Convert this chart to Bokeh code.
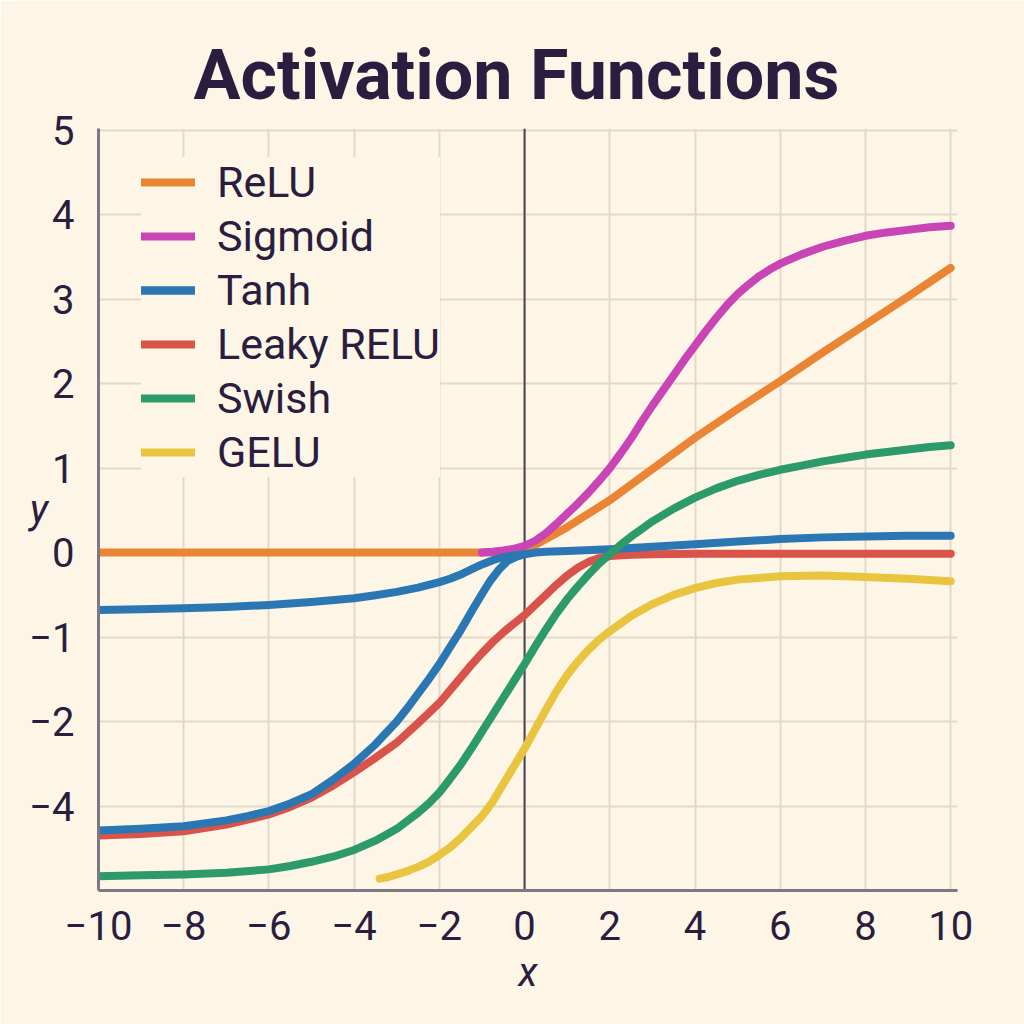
from bokeh.plotting import figure
from bokeh.models import Legend, LegendItem, Span
from bokeh.embed import file_html
from bokeh.resources import INLINE

# ---- data ----
relu_x = [-10, -8, -6, -4, -2, -1, -0.5, -0.25, 0, 0.25, 0.5, 0.75, 1, 1.5, 2, 3, 4, 5, 6, 7, 8, 9, 10]
relu_y = [0, 0, 0, 0, 0, 0, 0.005, 0.015, 0.04, 0.09, 0.16, 0.23, 0.3, 0.46, 0.62, 0.99, 1.36, 1.7, 2.03, 2.37, 2.7, 3.03, 3.37]

sig_x = [-1.0, -0.75, -0.5, -0.25, 0, 0.25, 0.5, 0.75, 1, 1.25, 1.5, 1.75, 2, 2.25, 2.5, 2.75, 3, 3.25, 3.5,
         3.75, 4, 4.25, 4.5, 4.75, 5, 5.25, 5.5, 5.75, 6, 6.5, 7, 7.5, 8, 8.5, 9, 9.5, 10]
sig_y = [0.0, 0.01, 0.025, 0.045, 0.08, 0.14, 0.23, 0.34, 0.46, 0.58, 0.71, 0.85, 1.0, 1.17, 1.35, 1.55, 1.74, 1.92, 2.1,
         2.28, 2.45, 2.62, 2.78, 2.93, 3.06, 3.17, 3.27, 3.35, 3.42, 3.53, 3.62, 3.69, 3.75, 3.79, 3.82, 3.85, 3.87]

tanh_a_x = [-10, -9, -8, -7, -6, -5, -4, -3.5, -3, -2.5, -2, -1.75, -1.5, -1.25, -1.0, -0.75, -0.5, -0.25, 0]
tanh_a_y = [-0.68, -0.67, -0.66, -0.645, -0.62, -0.585, -0.54, -0.505, -0.465, -0.415, -0.35, -0.31, -0.26,
            -0.2, -0.14, -0.09, -0.055, -0.035, -0.02]

tanh_b_x = [-10, -9, -8, -7, -6.5, -6, -5.5, -5, -4.5, -4, -3.5, -3, -2.75, -2.5, -2.25, -2, -1.75, -1.5, -1.25,
            -1, -0.8, -0.6, -0.4, -0.2, 0, 0.25, 0.5, 1, 2, 3, 4, 5, 6, 7, 8, 9, 10]
tanh_b_y = [-3.29, -3.27, -3.24, -3.17, -3.12, -3.06, -2.97, -2.86, -2.69, -2.5, -2.27, -2.0, -1.84, -1.67, -1.5,
            -1.32, -1.12, -0.92, -0.7, -0.49, -0.33, -0.2, -0.1, -0.05, -0.02, 0.0, 0.01, 0.02, 0.04, 0.07, 0.1,
            0.13, 0.16, 0.18, 0.19, 0.2, 0.2]

leaky_x = [-10, -9, -8, -7, -6, -5.5, -5, -4.5, -4, -3.5, -3, -2.5, -2, -1.5, -1.25, -1, -0.75, -0.5, -0.25, 0,
           0.5, 0.75, 1, 1.25, 1.5, 1.75, 2, 2.5, 3, 4, 6, 8, 10]
leaky_y = [-3.35, -3.33, -3.3, -3.22, -3.1, -3.01, -2.9, -2.76, -2.6, -2.43, -2.25, -2.02, -1.78, -1.48, -1.33,
           -1.19, -1.06, -0.945, -0.84, -0.74, -0.5, -0.38, -0.27, -0.18, -0.11, -0.065, -0.04, -0.025, -0.02,
           -0.015, -0.015, -0.015, -0.015]

swish_x = [-10, -9, -8, -7, -6, -5.5, -5, -4.5, -4, -3.5, -3, -2.5, -2.25, -2, -1.75, -1.5, -1.25, -1, -0.75, -0.5,
           -0.25, 0, 0.25, 0.5, 0.75, 1, 1.25, 1.5, 1.75, 2, 2.25, 2.5, 2.75, 3, 3.5, 4, 4.5, 5, 5.5, 6, 6.5, 7,
           7.5, 8, 8.5, 9, 9.5, 10]
swish_y = [-3.83, -3.82, -3.81, -3.79, -3.75, -3.71, -3.66, -3.6, -3.52, -3.41, -3.27, -3.08, -2.97, -2.84, -2.68,
           -2.51, -2.32, -2.12, -1.92, -1.72, -1.52, -1.32, -1.11, -0.91, -0.72, -0.55, -0.4, -0.26, -0.13, -0.02,
           0.09, 0.19, 0.28, 0.37, 0.52, 0.65, 0.76, 0.85, 0.92, 0.98, 1.03, 1.08, 1.12, 1.16, 1.19, 1.22, 1.25, 1.27]

gelu_x = [-3.4, -3.2, -3, -2.75, -2.5, -2.25, -2, -1.75, -1.5, -1.25, -1, -0.75, -0.5, -0.25, 0, 0.25, 0.5, 0.75,
          1, 1.25, 1.5, 1.75, 2, 2.5, 3, 3.5, 4, 4.5, 5, 5.5, 6, 7, 8, 9, 10]
gelu_y = [-3.86, -3.84, -3.81, -3.77, -3.72, -3.66, -3.58, -3.49, -3.38, -3.25, -3.12, -2.95, -2.74, -2.53, -2.32,
          -2.09, -1.86, -1.64, -1.45, -1.29, -1.15, -1.03, -0.93, -0.75, -0.61, -0.5, -0.42, -0.36, -0.32, -0.3,
          -0.28, -0.27, -0.29, -0.31, -0.34]

x_ticks = [-10, -8, -6, -4, -2, 0, 2, 4, 6, 8, 10]
x_tick_labels = ["−10", "−8", "−6", "−4", "−2", "0", "2", "4", "6", "8", "10"]
y_ticks = [-3, -2, -1, 0, 1, 2, 3, 4, 5]
y_tick_labels = ["−4", "−2", "−1", "0", "1", "2", "3", "4", "5"]

BG = "#fdf6e7"
INK = "#2b1d3f"
FONT = "Roboto"

p = figure(width=1024, height=1024, x_range=(-10, 10.16), y_range=(-4, 5.02),
           output_backend="svg", toolbar_location=None,
           background_fill_color=BG, border_fill_color=BG,
           min_border_left=98, min_border_right=67, min_border_top=128, min_border_bottom=134)
p.outline_line_color = None

p.title.text = "Activation Functions"
p.title.text_font = FONT
p.title.text_font_size = "70px"
p.title.text_font_style = "bold"
p.title.text_color = INK
p.title.align = "left"
p.title.offset = 95
p.title.standoff = 25

for ax in (p.xaxis, p.yaxis):
    ax.axis_line_color = "#7d7884"
    ax.axis_line_width = 3
    ax.major_tick_line_color = None
    ax.minor_tick_line_color = None
    ax.major_label_text_font = FONT
    ax.major_label_text_font_size = "40px"
    ax.major_label_text_color = INK
    ax.axis_label_text_font = FONT
    ax.axis_label_text_font_size = "40px"
    ax.axis_label_text_font_style = "italic"
    ax.axis_label_text_color = INK

p.xaxis.ticker = x_ticks
p.xaxis.major_label_overrides = {t: l for t, l in zip(x_ticks, x_tick_labels)}
p.xaxis.major_label_standoff = 14
p.xaxis.axis_label = "x"
p.xaxis.axis_label_standoff = 6

p.yaxis.ticker = y_ticks
p.yaxis.major_label_overrides = {t: l for t, l in zip(y_ticks, y_tick_labels)}
p.yaxis.major_label_standoff = 18
p.yaxis.axis_label = "y"
p.yaxis.axis_label_standoff = -22
try:
    p.yaxis.axis_label_orientation = "horizontal"
except Exception:
    pass

p.xgrid.grid_line_color = "#e2d9c8"
p.xgrid.grid_line_width = 2
p.ygrid.grid_line_color = "#e2d9c8"
p.ygrid.grid_line_width = 2

p.add_layout(Span(location=0, dimension="height", line_color="#4a4356", line_width=2, level="underlay"))

LW = 8
kw = dict(line_width=LW, line_cap="round", line_join="round")
r_relu = p.line(relu_x, relu_y, line_color="#ea8536", **kw)
r_sig = p.line(sig_x, sig_y, line_color="#c945b5", **kw)
r_leaky = p.line(leaky_x, leaky_y, line_color="#d9534a", **kw)
r_tanh_a = p.line(tanh_a_x, tanh_a_y, line_color="#2a77b4", **kw)
r_tanh_b = p.line(tanh_b_x, tanh_b_y, line_color="#2a77b4", **kw)
r_swish = p.line(swish_x, swish_y, line_color="#2c9a69", **kw)
r_gelu = p.line(gelu_x, gelu_y, line_color="#e9c43e", **kw)

legend = Legend(items=[
    LegendItem(label="ReLU", renderers=[r_relu]),
    LegendItem(label="Sigmoid", renderers=[r_sig]),
    LegendItem(label="Tanh", renderers=[r_tanh_a, r_tanh_b]),
    LegendItem(label="Leaky RELU", renderers=[r_leaky]),
    LegendItem(label="Swish", renderers=[r_swish]),
    LegendItem(label="GELU", renderers=[r_gelu]),
], location=(43, 413))
legend.background_fill_color = BG
legend.background_fill_alpha = 1.0
legend.border_line_color = None
legend.label_text_font = FONT
legend.label_text_font_size = "43px"
legend.label_text_color = INK
legend.glyph_width = 54
legend.glyph_height = 44
legend.label_height = 44
legend.spacing = 4
legend.padding = 12
legend.label_standoff = 22
p.add_layout(legend)

open("out.html", "w").write(file_html(p, INLINE))
